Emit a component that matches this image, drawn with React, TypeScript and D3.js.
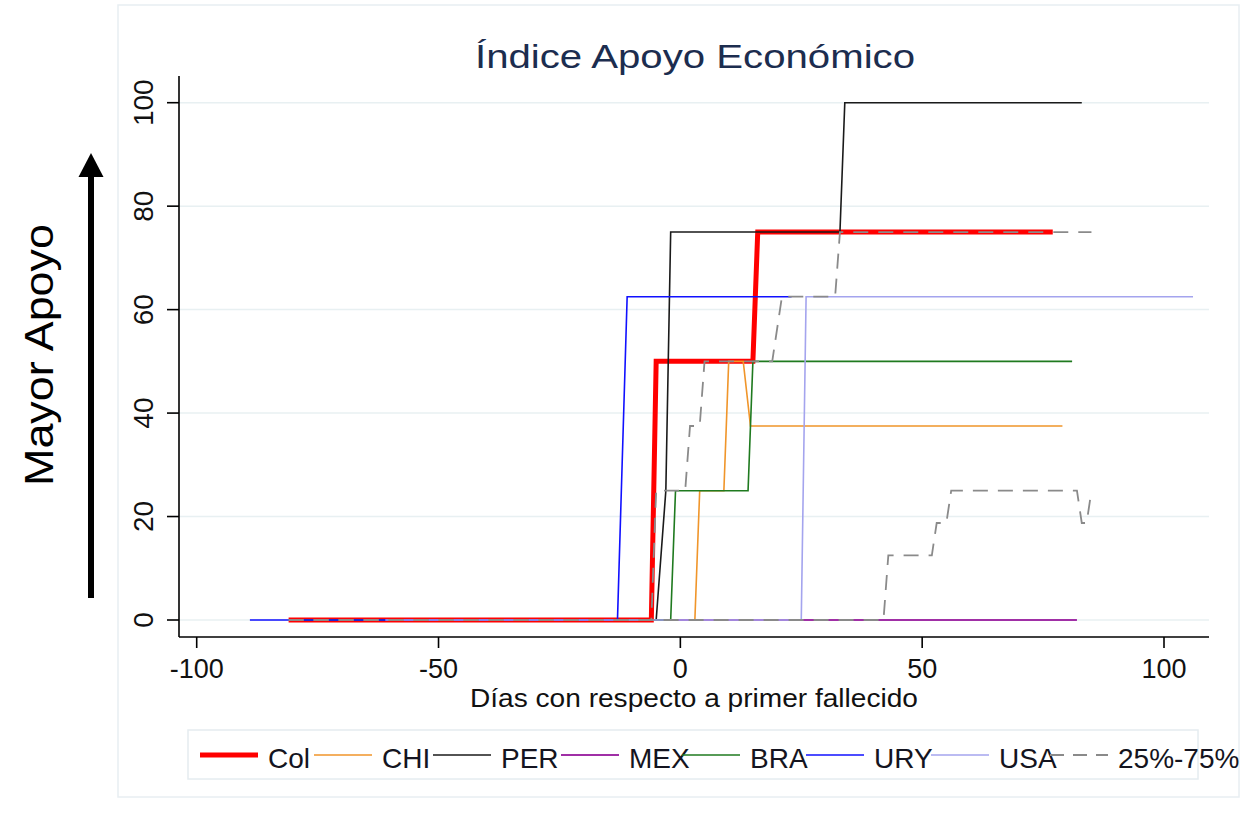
import React from 'react';
import * as d3 from 'd3';

type Pt = [number, number];

// ---- data (day relative to first death, index value) ----
const xTicks = [-100, -50, 0, 50, 100];
const yTicks = [0, 20, 40, 60, 80, 100];

const colPts: Pt[] = [[-81, 0], [-6, 0], [-5, 50], [15, 50], [16, 75], [77, 75]];
const chiPts: Pt[] = [[-80, 0], [3, 0], [4, 25], [9, 25], [10, 50], [13, 50], [14.5, 37.5], [79, 37.5]];
const perPts: Pt[] = [[-80, 0], [-5, 0], [-3, 25], [-2, 75], [33, 75], [34, 100], [83, 100]];
const mexPts: Pt[] = [[-80, 0], [82, 0]];
const braPts: Pt[] = [[-80, 0], [-2, 0], [-1, 25], [14, 25], [15, 50], [81, 50]];
const uryPts: Pt[] = [[-89, 0], [-13, 0], [-11, 62.5], [23, 62.5]];
const usaPts: Pt[] = [[-61, 0], [25, 0], [26, 62.5], [106, 62.5]];
const p25Pts: Pt[] = [[-81, 0], [42, 0], [43, 12.5], [52, 12.5], [53, 18.75], [55, 18.75], [56, 25], [82, 25], [83, 18.75], [84, 18.75], [85, 25]];
const p75Pts: Pt[] = [[-81, 0], [-6, 0], [-5, 25], [1, 25], [2, 37.5], [4, 37.5], [5, 50], [19, 50], [21, 62.5], [32, 62.5], [33, 75], [85, 75]];

const legendLabels = ['Col', 'CHI', 'PER', 'MEX', 'BRA', 'URY', 'USA', '25%-75%'];

// ---- styles ----
const FONT = '"Liberation Sans", Arial, sans-serif';
const styles: Record<string, { color: string; width: number; dash?: string }> = {
  Col: { color: '#ff0000', width: 5 },
  CHI: { color: '#f0952a', width: 1.6 },
  PER: { color: '#1a1a1a', width: 1.6 },
  MEX: { color: '#a02fa6', width: 1.8 },
  BRA: { color: '#1f7a1f', width: 1.6 },
  URY: { color: '#1010ff', width: 1.6 },
  USA: { color: '#a4a4ee', width: 1.6 },
  '25%-75%': { color: '#8a8a8a', width: 1.8, dash: '15,10' },
};

const series: { name: string; pts: Pt[] }[] = [
  { name: 'Col', pts: colPts },
  { name: 'CHI', pts: chiPts },
  { name: 'PER', pts: perPts },
  { name: 'MEX', pts: mexPts },
  { name: 'BRA', pts: braPts },
  { name: 'URY', pts: uryPts },
  { name: 'USA', pts: usaPts },
  { name: '25%-75%', pts: p25Pts },
  { name: '25%-75%', pts: p75Pts },
];

const legendX = [200, 314, 433, 561, 682, 806, 931, 1050];

export default function App() {
  const W = 1255, H = 813;
  const plotL = 179, plotR = 1209, plotT = 76, plotB = 637;
  const x = d3.scaleLinear().domain([-100, 100]).range([196.7, 1164]);
  const y = d3.scaleLinear().domain([0, 100]).range([620, 102.7]);
  const line = d3.line<Pt>().x(d => x(d[0])).y(d => y(d[1]));

  return (
    <div style={{ position: 'absolute', left: 0, top: 0 }}>
      <svg width={W} height={H} style={{ display: 'block', background: '#fff' }} fontFamily={FONT}>
        {/* graph region frame */}
        <rect x={118} y={5} width={1121} height={792} fill="#fff" stroke="#e8eef2" strokeWidth={1.5} />

        {/* title */}
        <text x={695} y={68} textAnchor="middle" fontSize={34} fill="#1c2d4f"
          textLength={440} lengthAdjust="spacingAndGlyphs">Índice Apoyo Económico</text>

        {/* gridlines */}
        {yTicks.map(t => (
          <line key={'g' + t} x1={plotL} x2={plotR} y1={y(t)} y2={y(t)} stroke="#e8f0f2" strokeWidth={1.5} />
        ))}

        {/* series */}
        {series.map((s, i) => {
          const st = styles[s.name];
          return (
            <path key={i} d={line(s.pts) || ''} fill="none" stroke={st.color} strokeWidth={st.width}
              strokeDasharray={st.dash} strokeLinejoin="miter" />
          );
        })}

        {/* axes */}
        <line x1={plotL} x2={plotL} y1={plotT} y2={plotB} stroke="#000" strokeWidth={1.6} />
        <line x1={plotL} x2={plotR} y1={plotB} y2={plotB} stroke="#000" strokeWidth={1.6} />
        {yTicks.map(t => (
          <g key={'yt' + t}>
            <line x1={plotL - 12} x2={plotL} y1={y(t)} y2={y(t)} stroke="#000" strokeWidth={1.6} />
            <text transform={`translate(153,${y(t)}) rotate(-90)`} textAnchor="middle" fontSize={28} fill="#111">{t}</text>
          </g>
        ))}
        {xTicks.map(t => (
          <g key={'xt' + t}>
            <line x1={x(t)} x2={x(t)} y1={plotB} y2={plotB + 11} stroke="#000" strokeWidth={1.6} />
            <text x={x(t)} y={678} textAnchor="middle" fontSize={27} fill="#111">{t}</text>
          </g>
        ))}
        <text x={694} y={707} textAnchor="middle" fontSize={26.5} fill="#111"
          textLength={448} lengthAdjust="spacingAndGlyphs">Días con respecto a primer fallecido</text>

        {/* legend */}
        <rect x={188} y={730} width={1010} height={49} fill="none" stroke="#e5ecf0" strokeWidth={1.5} />
        {legendLabels.map((lab, i) => {
          const st = styles[lab];
          const lx = legendX[i];
          return (
            <g key={'lg' + i}>
              <line x1={lx} x2={lx + 58} y1={755} y2={755} stroke={st.color} strokeWidth={st.width}
                strokeDasharray={st.dash ? '14,9' : undefined} />
              <text x={lx + 68} y={768} fontSize={28} fill="#141420">{lab}</text>
            </g>
          );
        })}

        {/* Mayor Apoyo arrow */}
        <line x1={91} x2={91} y1={598} y2={175} stroke="#000" strokeWidth={6} />
        <polygon points="78.5,177 103.5,177 91,153" fill="#000" />
        <text transform="translate(53,355) rotate(-90)" textAnchor="middle" fontSize={40} fill="#000"
          textLength={262} lengthAdjust="spacingAndGlyphs">Mayor Apoyo</text>
      </svg>
    </div>
  );
}
